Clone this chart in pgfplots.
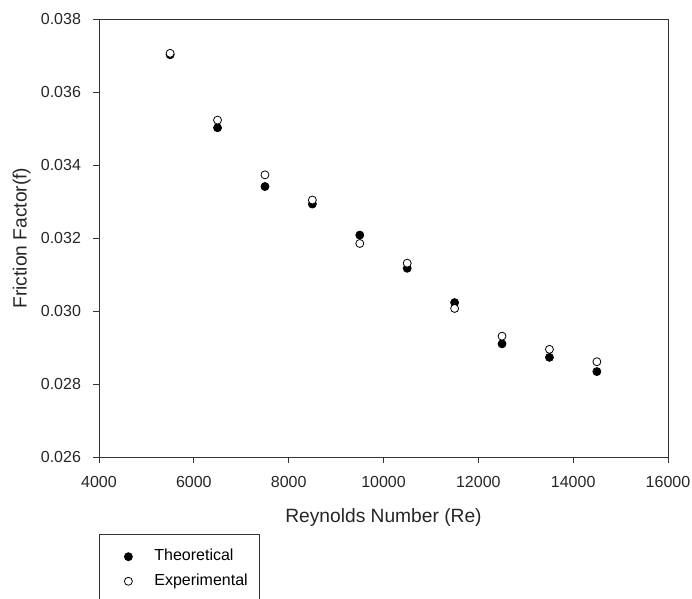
\documentclass[border=0pt]{standalone}
\usepackage{pgfplots}
\pgfplotsset{compat=1.18}
\usepackage{fontspec}
\setmainfont{Liberation Sans}
\begin{document}
\begin{tikzpicture}
\path[use as bounding box] (-49.5pt,-71pt) rectangle (296.5pt,228.5pt);
\begin{axis}[
scale only axis,width=284.5pt,height=219pt,
xmin=4000,xmax=16000,ymin=0.026,ymax=0.038,
xtick={4000,6000,8000,10000,12000,14000,16000},
ytick={0.026,0.028,0.030,0.032,0.034,0.036,0.038},
scaled ticks=false,
x tick label style={/pgf/number format/1000 sep={},yshift=-3pt},
y tick label style={/pgf/number format/.cd,fixed,fixed zerofill,precision=3,/tikz/xshift=-2.5pt},
/pgf/number format/assume math mode=true,
tick label style={font=\fontsize{8}{9}\selectfont,black!85},
label style={font=\fontsize{9.6}{11}\selectfont,black!85},
xtick pos=left,ytick pos=left,tick align=outside,
major tick length=3pt,
axis line style={black!80},
every tick/.style={black!80},
xlabel={Reynolds Number (Re)},ylabel={Friction Factor(f)},
xlabel style={at={(axis description cs:0.5,-0.139)},anchor=center},
ylabel style={at={(axis description cs:-0.136,0.5)},anchor=center},
legend style={at={(axis description cs:0,0)},anchor=north west,yshift=-38.5pt,
  draw=black!80,font=\fontsize{8}{9}\selectfont,inner xsep=4pt,inner ysep=5.5pt,
  row sep=1pt,cells={anchor=west}},
legend cell align=left,
legend image code/.code={\path[draw=none,fill=none] (0pt,0pt) -- (21.5pt,0pt);
  \draw[#1] plot coordinates {(10.5pt,0pt)};},
]
\addplot[only marks,mark=*,mark size=2pt,black] coordinates {
(5500,0.03702)(6500,0.03502)(7500,0.03341)(8500,0.03293)(9500,0.03208)
(10500,0.03117)(11500,0.03023)(12500,0.02910)(13500,0.02873)(14500,0.02834)};
\addplot[only marks,mark=*,mark size=2pt,black,mark options={fill=white}] coordinates {
(5500,0.03706)(6500,0.03523)(7500,0.03373)(8500,0.03304)(9500,0.03185)
(10500,0.03131)(11500,0.03007)(12500,0.02931)(13500,0.02895)(14500,0.02861)};
\legend{Theoretical,Experimental}
\end{axis}
\end{tikzpicture}
\end{document}
